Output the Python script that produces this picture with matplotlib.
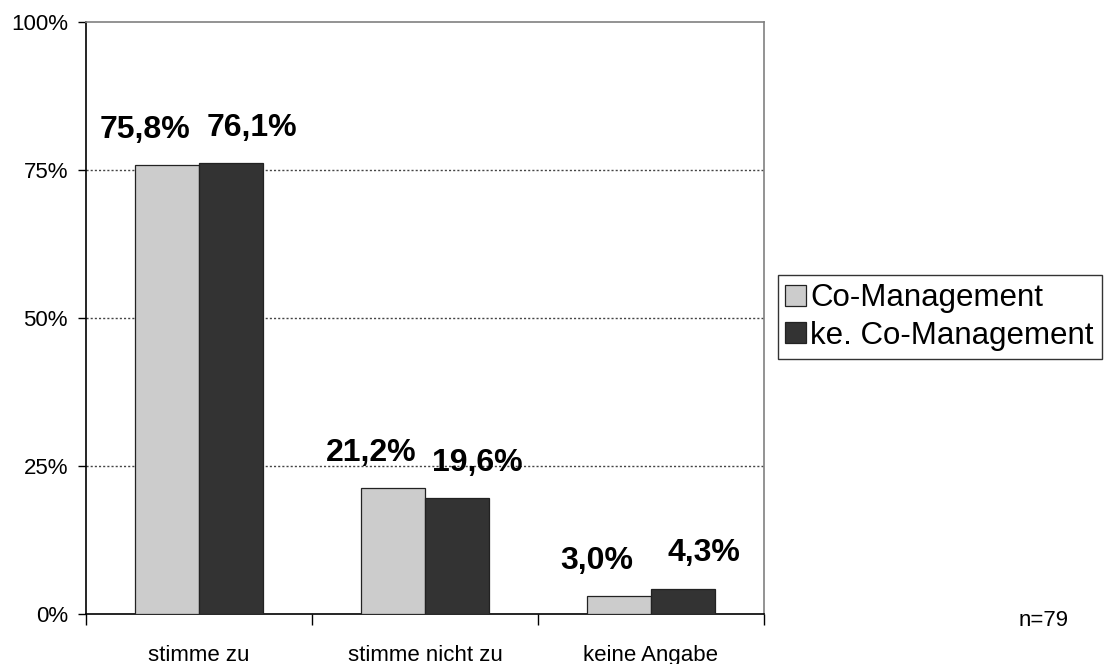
import matplotlib
matplotlib.use("Agg")
import matplotlib.pyplot as plt
import numpy as np

plt.rcParams["font.family"] = ["Liberation Sans", "DejaVu Sans"]

categories = ["stimme zu", "stimme nicht zu", "keine Angabe"]
series_names = ["Co-Management", "ke. Co-Management"]
co_mgmt = [75.8, 21.2, 3.0]
ke_co_mgmt = [76.1, 19.6, 4.3]
yticks = [0, 25, 50, 75, 100]
n_text = "n=79"

LIGHT = "#cccccc"
DARK = "#333333"

fig = plt.figure(figsize=(11.14, 6.64), dpi=100)
ax = fig.add_axes([0.0772, 0.0753, 0.6086, 0.8916])

x = np.arange(len(categories))
w = 0.283
b1 = ax.bar(x - w / 2, co_mgmt, w, color=LIGHT, edgecolor="#222222",
            linewidth=0.9, label=series_names[0], zorder=3)
b2 = ax.bar(x + w / 2, ke_co_mgmt, w, color=DARK, edgecolor="#222222",
            linewidth=0.9, label=series_names[1], zorder=3)

# value labels (Excel-style, spread a bit left/right of the bars)
def fmt(v):
    return f"{v:.1f}%".replace(".", ",")

for rect, v in zip(b1, co_mgmt):
    ax.annotate(fmt(v), (rect.get_x() + rect.get_width() / 2, v),
                textcoords="offset points", xytext=(-16, 19.5),
                ha="center", va="baseline", fontsize=23, fontweight="bold")
for rect, v in zip(b2, ke_co_mgmt):
    ax.annotate(fmt(v), (rect.get_x() + rect.get_width() / 2, v),
                textcoords="offset points", xytext=(15, 19.5),
                ha="center", va="baseline", fontsize=23, fontweight="bold")

ax.set_xlim(-0.5, len(categories) - 0.5)
ax.set_ylim(0, 100)
ax.set_yticks(yticks)
ax.set_yticklabels([f"{t}%" for t in yticks], fontsize=16)
ax.tick_params(axis="y", direction="out", length=6, width=1, pad=7)

ax.set_xticks(x)
ax.set_xticklabels(categories, fontsize=16)
ax.set_xticks(np.arange(len(categories) + 1) - 0.5, minor=True)
ax.tick_params(axis="x", which="major", length=0, pad=22)
ax.tick_params(axis="x", which="minor", direction="out", length=8, width=1)

# dotted gridlines
for t in yticks[1:-1]:
    ax.axhline(t, color="#444444", ls=(0, (1.5, 1.5)), lw=1, zorder=1)

ax.spines["left"].set_color("black")
ax.spines["bottom"].set_color("black")
ax.spines["top"].set_color("#808080")
ax.spines["right"].set_color("#808080")
for s in ax.spines.values():
    s.set_linewidth(1.2)

leg = fig.legend(handles=[b1, b2], labels=series_names,
                 loc="center left", bbox_to_anchor=(0.698, 0.5226),
                 fontsize=22.5, frameon=True, fancybox=False,
                 edgecolor="black", handlelength=0.65, handleheight=0.65,
                 handletextpad=0.15, borderpad=0.25, labelspacing=0.25,
                 borderaxespad=0)
leg.get_frame().set_linewidth(1.0)

fig.text(1044 / 1114, 1 - 620 / 664, n_text, ha="center", va="center",
         fontsize=16)

plt.savefig("out.png", dpi=100, facecolor="white")
